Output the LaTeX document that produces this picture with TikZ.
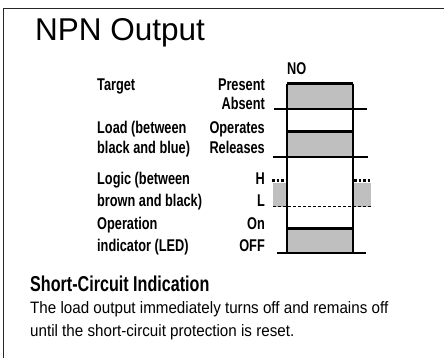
\documentclass[tikz,border=0pt]{standalone}
\usepackage{fontspec}
\setmainfont{Liberation Sans}
\newfontfamily\condfont{Liberation Sans}[FakeStretch=0.75]
\newfontfamily\bodyfont{Liberation Sans}[FakeStretch=0.92]
\usetikzlibrary{positioning}

\begin{document}
\begin{tikzpicture}[x=1pt,y=-1pt,
lbl/.style={font=\condfont\bfseries\fontsize{17}{19}\selectfont,inner sep=0pt},
txt/.style={font=\bodyfont\fontsize{16.5}{18}\selectfont,inner sep=0pt,anchor=base west},
sigfill/.style={fill=black!25},
level/.style={line width=1.1pt},
edge/.style={line width=1.5pt},
high/.style={line width=3pt},
hdots/.style={line width=3pt,dash pattern=on 2.5pt off 2pt}]
\useasboundingbox(0,0)rectangle(444,358);
\draw[line width=1.5pt,black!85](3.5,358)--(3.5,8.5)--(444,8.5);
\node[inner sep=0pt,anchor=base west,font=\fontsize{31.5}{34}\selectfont](title)at(35,41){NPN Output};
\fill[sigfill](287,84)rectangle(353,109);
\fill[sigfill](287,132)rectangle(353,157);
\fill[sigfill](287,228)rectangle(353,253);
\fill[sigfill](273,183)rectangle(286,206.5);
\fill[sigfill](353,183)rectangle(371,206.5);
\draw[level](274,109)--(367,109);
\draw[level](273,157)--(368,157);
\draw[level](277,253)--(366,253);
\draw[line width=0.8pt,dash pattern=on 3pt off 2pt](273,206.5)--(371,206.5);
\draw[hdots](272,181)--(286,181);
\draw[hdots](354,181)--(370,181);
\draw[edge](287,84)--(287,253);
\draw[edge](353,84)--(353,253);
\draw[high](287,84)--(353,84);
\draw[high](287,132)--(353,132);
\draw[high](287,228)--(353,228);
\node[lbl,anchor=base west](no)at(287,75){NO};
\node[lbl,anchor=base west](target)at(97,90.5){Target};
\node[lbl,anchor=base west](load1)at(97,134){Load (between};
\node[lbl,anchor=base west](load2)at(97,154){black and blue)};
\node[lbl,anchor=base west](logic1)at(97,185){Logic (between};
\node[lbl,anchor=base west](logic2)at(97,206){brown and black)};
\node[lbl,anchor=base west](led1)at(97,229){Operation};
\node[lbl,anchor=base west](led2)at(97,251.5){indicator (LED)};
\node[lbl,anchor=base east](present)at(265,90.5){Present};
\node[lbl,anchor=base east](absent)at(265,110){Absent};
\node[lbl,anchor=base east](operates)at(265,134){Operates};
\node[lbl,anchor=base east](releases)at(265,154){Releases};
\node[lbl,anchor=base east](hi)at(265,185){H};
\node[lbl,anchor=base east](lo)at(265,206){L};
\node[lbl,anchor=base east](on)at(265,229){On};
\node[lbl,anchor=base east](off)at(265,251.5){OFF};
\node[lbl,anchor=base west,font=\condfont\bfseries\fontsize{21.5}{23}\selectfont](sc)at(30,291.5){Short-Circuit Indication};
\node[txt](line1)at(30,313){The load output immediately turns off and remains off};
\node[txt](line2)at(30,336){until the short-circuit protection is reset.};
\end{tikzpicture}
\end{document}
